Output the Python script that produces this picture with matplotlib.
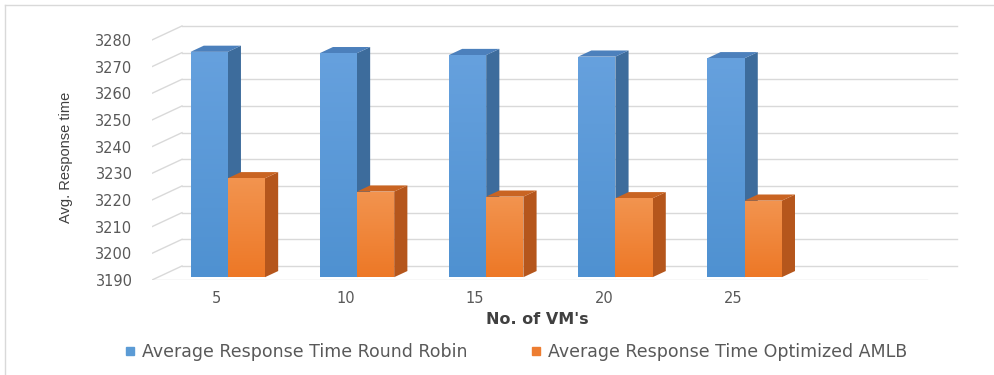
import numpy as np
import matplotlib.pyplot as plt
from matplotlib.patches import Polygon
from matplotlib.lines import Line2D

# data
vms = ["5", "10", "15", "20", "25"]
round_robin = [3274.5, 3274.0, 3273.3, 3272.7, 3272.1]
amlb = [3227.1, 3222.1, 3220.2, 3219.6, 3218.7]
series = ["Average Response Time Round Robin", "Average Response Time Optimized AMLB"]
yticks = np.arange(3190, 3281, 10)

W, H = 994, 375
fig = plt.figure(figsize=(W / 100, H / 100), dpi=100)
ax = fig.add_axes([152 / W, (H - 280) / H, (966 - 152) / W, (280 - 21.3) / H])

ymin = 3190
nslots = len(vms) + 1          # one empty slot after the last category
dx, dy = 0.232, 5.25           # depth offset of the back wall (data units)
f0, f1 = 0.2, 0.64             # front / back depth of the bars
bw = 0.288                     # width of one bar
shift = 0.04                   # bars sit a little right of the slot centre

grid_c = "#d9d9d9"
# back wall gridlines + side wall lines
for v in yticks:
    ax.plot([-0.5 + dx, nslots - 0.5 + dx], [v + dy, v + dy], color=grid_c, lw=1, zorder=1)
    ax.plot([-0.5, -0.5 + dx], [v, v + dy], color=grid_c, lw=1, zorder=1)
ax.plot([-0.5, nslots - 0.5], [ymin, ymin], color=grid_c, lw=1, zorder=1)


def gradient_face(poly, c_top, c_bot, x0, x1, y0, y1, z):
    g = np.linspace(0, 1, 64)[:, None]
    img = np.array(c_top)[None, None, :] * (1 - g[..., None]) + np.array(c_bot)[None, None, :] * g[..., None]
    img = np.repeat(img, 2, axis=1)
    im = ax.imshow(img, extent=[x0, x1, y0, y1], aspect="auto", origin="upper", zorder=z,
                   interpolation="bilinear")
    im.set_clip_path(poly)


def box(x0, top, cols, z):
    fx, fy = x0 + f0 * dx, f0 * dy
    bx, by = (f1 - f0) * dx, (f1 - f0) * dy
    front = Polygon([(fx, ymin + fy), (fx + bw, ymin + fy), (fx + bw, top + fy), (fx, top + fy)],
                    closed=True, facecolor="none", edgecolor="none", zorder=z)
    side = Polygon([(fx + bw, ymin + fy), (fx + bw + bx, ymin + fy + by),
                    (fx + bw + bx, top + fy + by), (fx + bw, top + fy)],
                   closed=True, facecolor=cols[2], edgecolor="none", zorder=z)
    topf = Polygon([(fx, top + fy), (fx + bw, top + fy), (fx + bw + bx, top + fy + by),
                    (fx + bx, top + fy + by)],
                   closed=True, facecolor=cols[3], edgecolor="none", zorder=z)
    ax.add_patch(side)
    ax.add_patch(topf)
    ax.add_patch(front)
    gradient_face(front, cols[0], cols[1], fx, fx + bw, ymin + fy, top + fy, z)


blue = [(0.40, 0.63, 0.87), (0.31, 0.57, 0.82), "#3d6c9c", "#4c80bc"]
orange = [(0.95, 0.58, 0.31), (0.93, 0.47, 0.15), "#b5561c", "#c96422"]

for i in range(len(vms)):
    box(i - bw + shift, round_robin[i], blue, 3 + 2 * i)
    box(i + shift, amlb[i], orange, 4 + 2 * i)

ax.set_xlim(-0.5, nslots - 0.5 + 0.3)
ax.set_ylim(ymin, 3287)
ax.set_yticks(yticks)
ax.set_yticklabels([str(v) for v in yticks])
ax.set_xticks(range(len(vms)))
ax.set_xticklabels(vms)
ax.tick_params(length=0, labelsize=10.5, labelcolor="#595959")
ax.tick_params(axis="y", pad=14)
ax.tick_params(axis="x", pad=8)
for s in ax.spines.values():
    s.set_visible(False)

fig.text(66 / W, 1 - 157 / H, "Avg. Response time", rotation=90, ha="center", va="center",
         fontsize=10.5, color="#404040", family=["Liberation Sans", "DejaVu Sans"])
fig.text(537 / W, 1 - 320 / H, "No. of VM's", ha="center", va="center",
         fontsize=11.5, fontweight="bold", color="#404040")

handles = [Line2D([], [], marker="s", ls="", color="#5b9bd5", markersize=6),
           Line2D([], [], marker="s", ls="", color="#ed7d31", markersize=6)]
leg = fig.legend(handles, series, loc="center", bbox_to_anchor=(516 / W, 1 - 352 / H), ncol=2,
                 frameon=False, fontsize=12.5, handlelength=0.6, handletextpad=0.4,
                 columnspacing=3.6)
for t in leg.get_texts():
    t.set_color("#595959")

# chart area border
fig.add_artist(Line2D([5 / W, 1], [1 - 5 / H, 1 - 5 / H], transform=fig.transFigure,
                      color=grid_c, lw=1))
fig.add_artist(Line2D([5 / W, 5 / W], [0, 1 - 5 / H], transform=fig.transFigure,
                      color=grid_c, lw=1))

fig.savefig("out.png", dpi=100)
